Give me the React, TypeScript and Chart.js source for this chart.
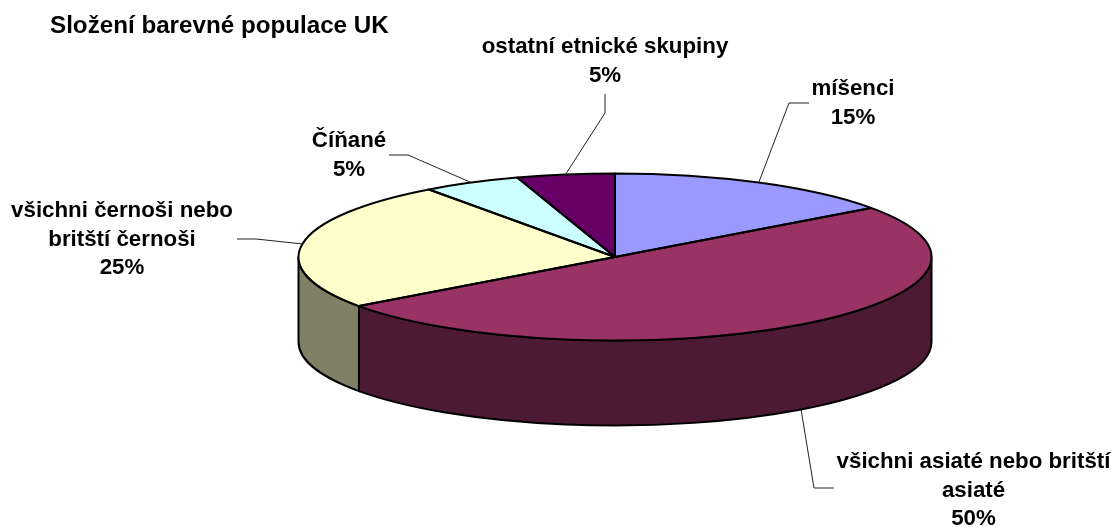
import React, { useEffect, useRef } from "react";
import { Chart, registerables } from "chart.js";

Chart.register(...registerables);

const categories = ["míšenci", "všichni asiaté nebo britští asiaté", "všichni černoši nebo britští černoši", "Číňané", "ostatní etnické skupiny"];
const values = [15, 50, 25, 5, 5];
const topColors = ["#9999FF", "#993366", "#FFFFCC", "#CCFFFF", "#660066"];
const wallColors = ["#4D4D80", "#4D1A33", "#808066", "#668080", "#330033"];
const chartTitle = "Složení barevné populace UK";
const labelLines = [
  ["míšenci", "15%"],
  ["všichni asiaté nebo britští", "asiaté", "50%"],
  ["všichni černoši nebo", "britští černoši", "25%"],
  ["Číňané", "5%"],
  ["ostatní etnické skupiny", "5%"],
];
const labelCenters = [[853, 89], [973.5, 462], [122, 211], [349, 141], [605, 47]];
const leaderBends = [
  [[789, 103], [809, 103]],
  [[814, 488], [834, 488]],
  [[256, 239], [237, 239]],
  [[408, 155], [389, 155]],
  [[605, 113], [605, 94]],
];

const RADIUS = 316.5;
const SQUASH = 83.5 / 316.5;
const DEPTH = 85;
const LINE_H = 28.5;
const FONT = 'bold 22.3px "Liberation Sans", Arial, sans-serif';
const TITLE_FONT = 'bold 24.2px "Liberation Sans", Arial, sans-serif';

const pie3d = {
  id: "pie3d",
  beforeDatasetsDraw(chart: any) {
    const ctx = chart.ctx;
    const arcs = chart.getDatasetMeta(0).data;
    const ry = RADIUS * SQUASH;
    ctx.save();
    ctx.lineWidth = 2;
    ctx.strokeStyle = "#000";
    arcs.forEach((arc: any, i: number) => {
      const a0 = Math.max(arc.startAngle, 0);
      const a1 = Math.min(arc.endAngle, Math.PI);
      if (a1 <= a0) return;
      ctx.beginPath();
      ctx.ellipse(arc.x, arc.y, RADIUS, ry, 0, a0, a1);
      ctx.ellipse(arc.x, arc.y + DEPTH, RADIUS, ry, 0, a1, a0, true);
      ctx.closePath();
      ctx.fillStyle = wallColors[i];
      ctx.fill();
      ctx.stroke();
    });
    ctx.restore();
    const cy = arcs[0].y;
    ctx.save();
    ctx.translate(0, cy);
    ctx.scale(1, SQUASH);
    ctx.translate(0, -cy);
  },
  afterDatasetsDraw(chart: any) {
    const ctx = chart.ctx;
    ctx.restore();
    const arcs = chart.getDatasetMeta(0).data;
    const ry = RADIUS * SQUASH;
    ctx.save();
    ctx.lineWidth = 2;
    ctx.strokeStyle = "#000";
    ctx.lineJoin = "round";
    arcs.forEach((arc: any) => {
      ctx.beginPath();
      ctx.moveTo(arc.x, arc.y);
      ctx.ellipse(arc.x, arc.y, RADIUS, ry, 0, arc.startAngle, arc.endAngle);
      ctx.closePath();
      ctx.stroke();
    });
    // leader lines start on the rim at each slice's mid angle
    ctx.lineWidth = 1;
    ctx.strokeStyle = "#222";
    arcs.forEach((arc: any, i: number) => {
      const mid = (arc.startAngle + arc.endAngle) / 2;
      const front = Math.sin(mid) > 0 ? DEPTH : 0;
      ctx.beginPath();
      ctx.moveTo(arc.x + RADIUS * Math.cos(mid), arc.y + ry * Math.sin(mid) + front);
      leaderBends[i].forEach(([x, y]) => ctx.lineTo(x, y));
      ctx.stroke();
    });
    ctx.fillStyle = "#000";
    ctx.font = FONT;
    ctx.textBaseline = "middle";
    ctx.textAlign = "center";
    labelLines.forEach((lines, i) => {
      lines.forEach((t, j) => ctx.fillText(t, labelCenters[i][0], labelCenters[i][1] + j * LINE_H));
    });
    ctx.textAlign = "left";
    ctx.font = TITLE_FONT;
    ctx.fillText(chartTitle, 50, 26);
    ctx.restore();
  },
};

export default function App() {
  const ref = useRef<HTMLCanvasElement>(null);
  useEffect(() => {
    const chart = new Chart(ref.current!, {
      type: "pie",
      data: {
        labels: categories,
        datasets: [{ data: values, backgroundColor: topColors, borderWidth: 0, clip: false } as any],
      },
      options: {
        animation: false,
        responsive: false,
        devicePixelRatio: 1,
        radius: RADIUS,
        layout: { padding: { left: 118, bottom: 13 } },
        plugins: { legend: { display: false }, tooltip: { enabled: false }, title: { display: false } },
      } as any,
      plugins: [pie3d],
    });
    return () => chart.destroy();
  }, []);
  return (
    <canvas
      ref={ref}
      width={1112}
      height={527}
      style={{ position: "fixed", left: 0, top: 0, width: 1112, height: 527, background: "#fff" }}
    />
  );
}
